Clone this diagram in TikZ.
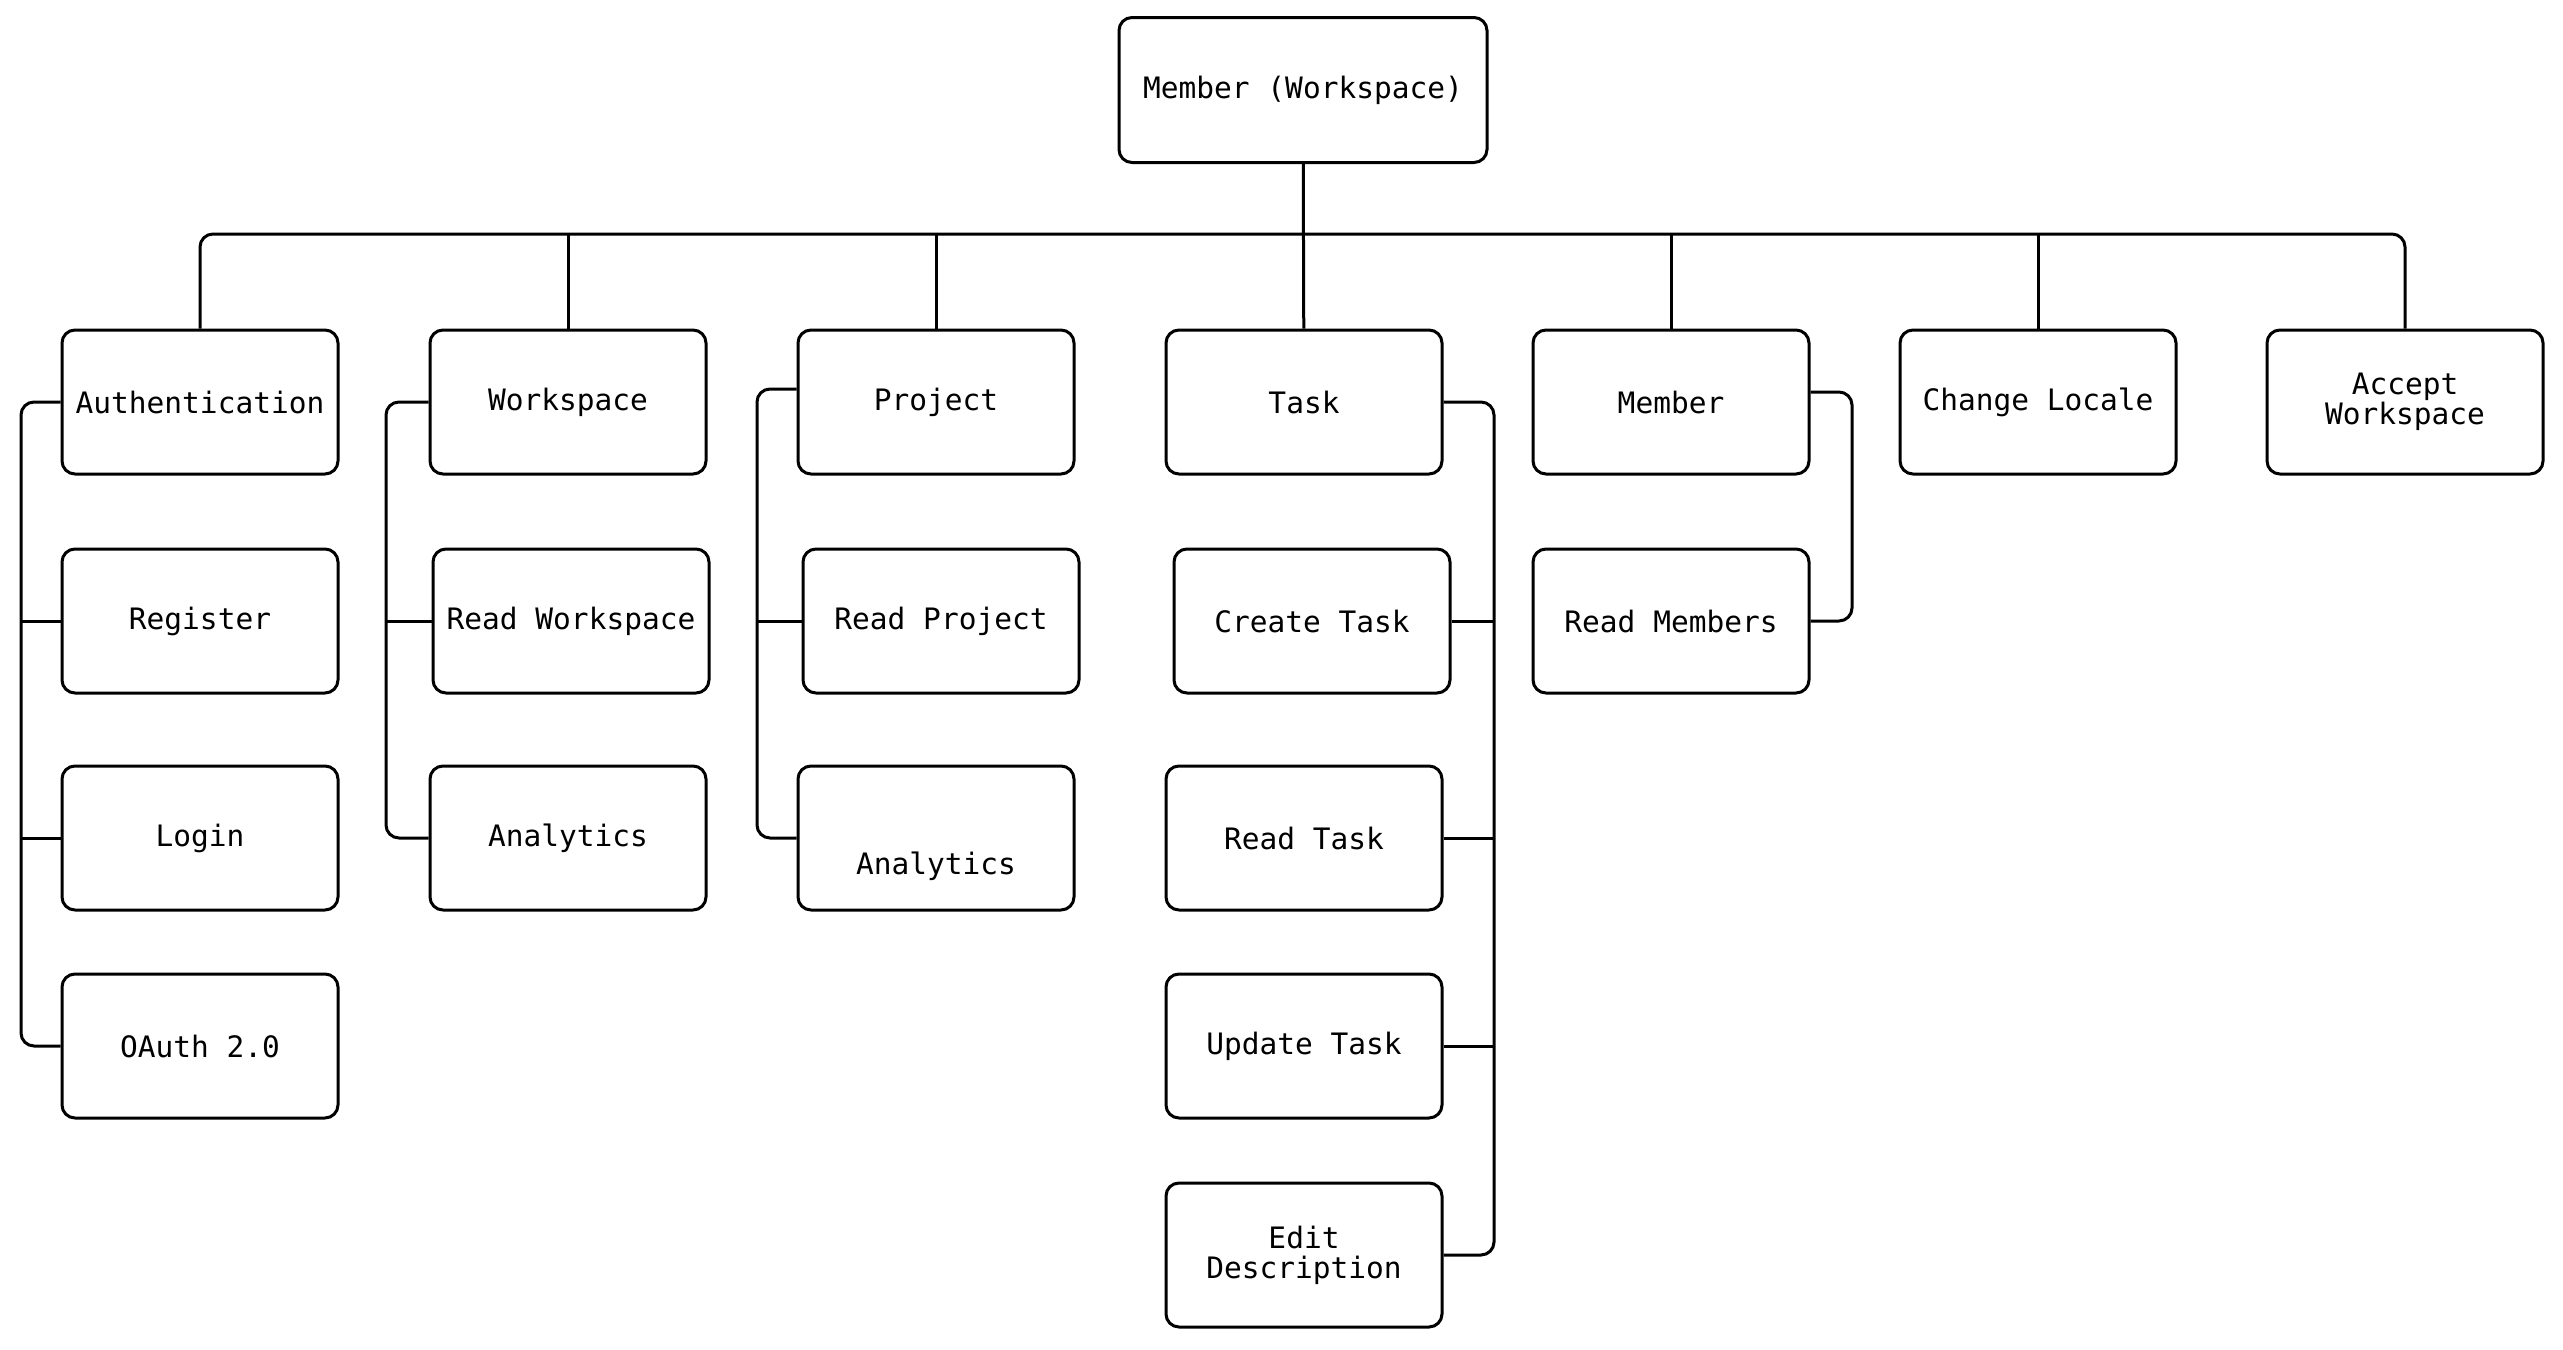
\documentclass[tikz,border=0pt]{standalone}
\usepackage{fontspec}
\setmonofont{DejaVu Sans Mono}
\usepackage{tikz}
\usetikzlibrary{positioning}
\newcommand{\boxfont}{\ttfamily\fontsize{29.5}{30}\selectfont}
\tikzset{featurebox/.style={draw,rounded corners=13pt,line width=3pt,minimum width=276pt,
        minimum height=144pt,inner sep=0,align=center,font=\boxfont},
    link/.style={line width=3pt,rounded corners=13pt}
}

\begin{document}
\begin{tikzpicture}[x=1pt,y=-1pt]

\useasboundingbox (0,0) rectangle (2563,1349);

\node (root) [featurebox,minimum width=368pt,minimum height=145pt] at (1303,90) {Member (Workspace)};

% first row
\node (auth) [featurebox] at (200,402) {Authentication};
\node (workspace) [featurebox] at (568,402) {Workspace};
\node (project) [featurebox] at (936,402) {Project};
\node (task) [featurebox] at (1304,402) {Task};
\node (member) [featurebox] at (1671,402) {Member};
\node (locale) [featurebox] at (2038,402) {Change Locale};
\node (accept) [featurebox] at (2405,402) {Accept\\Workspace};

% sub features
\node (register) [featurebox] at (200,621) {Register};
\node (login) [featurebox] at (200,838) {Login};
\node (oauth) [featurebox] at (200,1046) {OAuth 2.0};

\node (readws) [featurebox] at (571,621) {Read Workspace};
\node (wsanalytics) [featurebox] at (568,838) {Analytics};

\node (readproj) [featurebox] at (941,621) {Read Project};
\node (projanalytics) [featurebox] at (936,838) {\raisebox{-28pt}[\height][\depth]{Analytics}};

\node (createtask) [featurebox] at (1312,621) {Create Task};
\node (readtask) [featurebox] at (1304,838) {Read Task};
\node (updatetask) [featurebox] at (1304,1046) {Update Task};
\node (editdesc) [featurebox] at (1304,1255) {Edit\\Description};

\node (readmembers) [featurebox] at (1671,621) {Read Members};

% top bar
\coordinate (barL) at (200,234);
\coordinate (barR) at (2405,234);
\draw [link] (auth) -- (barL) -- (barR) -- (accept);
\draw [link] (root) -- (task);
\foreach \n in {workspace,project,member,locale}
    \draw [link] (\n) -- (\n |- barL);

% spines
\coordinate (authspine) at (21,402);
\coordinate (wsspine) at (386,402);
\coordinate (projspine) at (757,402);
\coordinate (taskspine) at (1494,402);
\coordinate (memberspine) at (1852,402);

\draw [link] (auth.west) -- (auth.west -| authspine) -- (oauth.west -| authspine) -- (oauth.west);
\foreach \n in {register,login}
    \draw [link] (\n.west) -- (\n.west -| authspine);

\draw [link] (workspace.west) -- (workspace.west -| wsspine) -- (wsanalytics.west -| wsspine) -- (wsanalytics.west);
\draw [link] (readws.west) -- (readws.west -| wsspine);

\draw [link] ([yshift=13pt]project.west) -- ([yshift=13pt]project.west -| projspine) -- (projanalytics.west -| projspine) -- (projanalytics.west);
\draw [link] (readproj.west) -- (readproj.west -| projspine);

\draw [link] (task.east) -- (task.east -| taskspine) -- (editdesc.east -| taskspine) -- (editdesc.east);
\foreach \n in {createtask,readtask,updatetask}
    \draw [link] (\n.east) -- (\n.east -| taskspine);

\draw [link] ([yshift=10pt]member.east) -- ([yshift=10pt]member.east -| memberspine) -- (readmembers.east -| memberspine) -- (readmembers.east);

\end{tikzpicture}
\end{document}
